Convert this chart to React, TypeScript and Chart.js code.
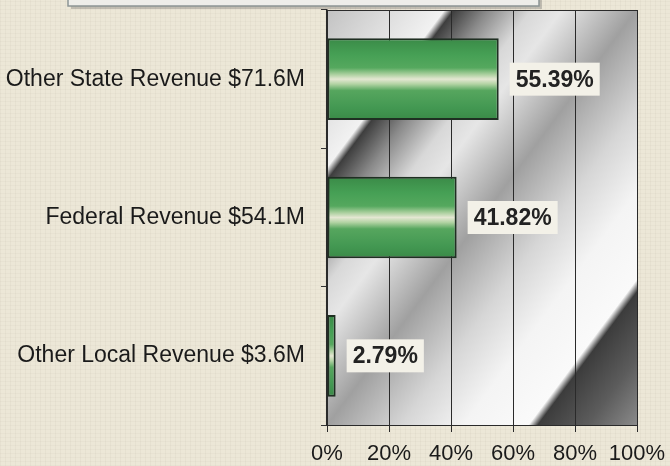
import React, { useEffect, useRef } from 'react';
import { Chart, registerables } from 'chart.js';

Chart.register(...registerables);

const categories = ['Other State Revenue $71.6M', 'Federal Revenue $54.1M', 'Other Local Revenue $3.6M'];
const shares = [55.39, 41.82, 2.79];
const tickLabels = ['0%', '20%', '40%', '60%', '80%', '100%'];

const FONT = '"Liberation Sans", Arial, sans-serif';
const BAR_PCT = 0.59;

const plotStops: [number, string][] = [
  [0.0, '#c2c2c2'],
  [0.1, '#dcdcdc'],
  [0.19, '#f2f2f2'],
  [0.205, '#3e3e3e'],
  [0.26, '#8a8a8a'],
  [0.33, '#d8d8d8'],
  [0.38, '#e6e6e6'],
  [0.5, '#a0a0a0'],
  [0.62, '#d6d6d6'],
  [0.72, '#f4f4f4'],
  [0.825, '#fafafa'],
  [0.84, '#3c3c3c'],
  [0.92, '#5c5c5c'],
  [1.0, '#8a8a8a'],
];

const barStops: [number, string][] = [
  [0.0, '#3a8a47'],
  [0.2, '#46a055'],
  [0.36, '#55a85e'],
  [0.44, '#a9cf9d'],
  [0.5, '#e4e7d2'],
  [0.56, '#b2d3a3'],
  [0.64, '#56a65e'],
  [0.85, '#439852'],
  [1.0, '#3a8a47'],
];

const decor = {
  id: 'decor',
  beforeDraw(chart: any) {
    const { ctx, chartArea: a } = chart;
    if (!a) return;
    ctx.save();
    const dx = 0.802, dy = 0.597;
    const L = (a.right - a.left) * dx + (a.bottom - a.top) * dy;
    const g = ctx.createLinearGradient(a.left, a.top, a.left + dx * L, a.top + dy * L);
    plotStops.forEach(([o, c]) => g.addColorStop(o, c));
    ctx.fillStyle = g;
    ctx.fillRect(a.left, a.top, a.right - a.left, a.bottom - a.top);
    ctx.restore();
  },
  afterDatasetsDraw(chart: any) {
    const { ctx } = chart;
    const meta = chart.getDatasetMeta(0);
    ctx.save();
    ctx.font = `bold 23px ${FONT}`;
    ctx.textBaseline = 'middle';
    ctx.textAlign = 'center';
    meta.data.forEach((el: any, i: number) => {
      const text = shares[i].toFixed(2) + '%';
      const w = ctx.measureText(text).width + 12;
      const h = 33;
      const bx = el.x + 11;
      const by = el.y - h / 2;
      ctx.fillStyle = '#f3f1e8';
      ctx.fillRect(bx, by, w, h);
      ctx.fillStyle = '#222222';
      ctx.fillText(text, bx + w / 2, el.y + 1);
    });
    ctx.restore();
  },
  afterDraw(chart: any) {
    const { ctx, chartArea: a } = chart;
    ctx.save();
    // plot frame
    ctx.strokeStyle = '#2a2a2a';
    ctx.lineWidth = 1;
    ctx.beginPath();
    ctx.moveTo(a.left, a.top + 0.5);
    ctx.lineTo(a.right + 0.5, a.top + 0.5);
    ctx.lineTo(a.right + 0.5, a.bottom);
    ctx.stroke();
    // cut-off title box at the very top
    ctx.fillStyle = 'rgba(90,90,90,0.3)';
    ctx.fillRect(71, -10, 471, 19);
    ctx.fillStyle = '#eeeeea';
    ctx.fillRect(68, -10, 471, 16);
    ctx.strokeStyle = '#8c9595';
    ctx.lineWidth = 1.5;
    ctx.strokeRect(68, -10, 471, 16);
    ctx.restore();
  },
};

export default function App() {
  const ref = useRef<HTMLCanvasElement | null>(null);
  useEffect(() => {
    if (!ref.current) return;
    const chart = new Chart(ref.current, {
      type: 'bar',
      data: {
        labels: categories,
        datasets: [
          {
            data: shares,
            barPercentage: BAR_PCT,
            categoryPercentage: 1,
            borderColor: '#1f2f22',
            borderWidth: 2,
            borderSkipped: false,
            backgroundColor: (c: any) => {
              const ch = c.chart;
              const ys = ch.scales && ch.scales.y;
              if (!ys || !ch.chartArea) return '#4a9c55';
              const cy = ys.getPixelForValue(c.dataIndex);
              const half = (ys.height / categories.length) * BAR_PCT / 2;
              const g = ch.ctx.createLinearGradient(0, cy - half, 0, cy + half);
              barStops.forEach(([o, col]) => g.addColorStop(o, col));
              return g;
            },
          },
        ],
      },
      options: {
        indexAxis: 'y',
        responsive: false,
        animation: false,
        events: [],
        layout: { padding: { left: 0, right: 33, top: 10, bottom: 0 } },
        plugins: {
          legend: { display: false },
          tooltip: { enabled: false },
          title: { display: false },
        },
        scales: {
          x: {
            min: 0,
            max: 100,
            ticks: {
              stepSize: 20,
              color: '#1a1a1a',
              font: { family: FONT, size: 22 },
              padding: 9,
              maxRotation: 0,
              callback: (_v: any, i: number) => tickLabels[i],
            },
            grid: { color: '#2a2a2a', lineWidth: 1, tickLength: 7, drawTicks: true },
            border: { display: true, color: '#2a2a2a', width: 1 },
            afterFit: (s: any) => {
              s.height = 41;
              s.paddingLeft = 0;
              s.paddingRight = 0;
            },
          },
          y: {
            grid: { offset: true, drawOnChartArea: false, drawTicks: true, tickLength: 6, color: '#333333', lineWidth: 1 },
            border: { display: true, color: '#2a2a2a', width: 1.5 },
            ticks: { color: '#1a1a1a', font: { family: FONT, size: 23 }, padding: 16 },
            afterFit: (s: any) => {
              s.width = 327;
              s.paddingTop = 0;
              s.paddingBottom = 0;
            },
          },
        },
      },
      plugins: [decor],
    } as any);
    return () => chart.destroy();
  }, []);

  return (
    <div
      style={{
        position: 'fixed',
        left: 0,
        top: 0,
        width: 670,
        height: 466,
        backgroundColor: '#ece7d7',
        backgroundImage:
          'repeating-linear-gradient(90deg, rgba(120,110,90,0.05) 0px, rgba(120,110,90,0.05) 1px, transparent 1px, transparent 5px), repeating-linear-gradient(0deg, rgba(120,110,90,0.04) 0px, rgba(120,110,90,0.04) 1px, transparent 1px, transparent 4px)',
      }}
    >
      <canvas ref={ref} width={670} height={466} style={{ width: 670, height: 466, display: 'block' }} />
    </div>
  );
}
